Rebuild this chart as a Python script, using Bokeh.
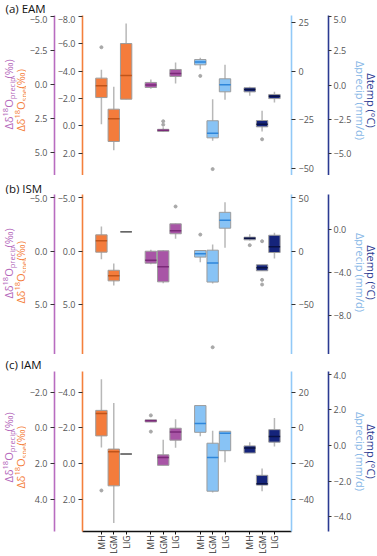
import math
from bokeh.plotting import figure
from bokeh.models import Range1d, LinearAxis, FixedTicker, ColumnDataSource
from bokeh.core.properties import value
from bokeh.layouts import column, row
from bokeh.embed import file_html
from bokeh.resources import INLINE

# ---------------- data ----------------
PERIODS = ["MH", "LGM", "LIG"]

# each entry: (whisker low, q1, median, q3, whisker high) for MH, LGM, LIG
EAM_SPEL = [(-4.10, -3.49, -2.93, -2.07, -0.12), (-2.86, -1.22, -0.52, 1.14, 1.78), (-7.49, -6.02, -3.68, -1.95, -1.95)]
EAM_PREC = [(-0.36, -0.14, 0.04, 0.23, 0.33), (3.14, 3.29, 3.36, 3.44, 3.49), (-1.60, -1.09, -0.80, -0.58, -0.06)]
EAM_AMT = [(1.1, 3.4, 4.9, 6.1, 7.0), (-35.7, -34.2, -31.8, -25.4, -14.3), (-14.6, -10.5, -6.9, -3.8, 3.5)]
EAM_TEMP = [(-0.79, -0.50, -0.33, -0.20, -0.13), (-3.39, -3.05, -2.86, -2.59, -1.88), (-1.28, -0.99, -0.82, -0.69, -0.50)]
EAM_SPEL_OUT = [[-5.75], [], []]
EAM_PREC_OUT = [[], [2.70, 2.95], []]
EAM_AMT_OUT = [[-2.3], [-50.3], []]
EAM_TEMP_OUT = [[], [-3.96], []]

ISM_SPEL = [(-2.32, -1.54, -0.98, 0.08, 0.74), (1.14, 1.77, 2.29, 2.76, 3.20), (-1.82, -1.82, -1.82, -1.82, -1.82)]
ISM_PREC = [(-0.14, -0.01, 0.83, 1.11, 1.21), (-0.10, -0.05, 1.45, 2.85, 2.98), (-2.60, -2.57, -1.92, -1.64, -1.17)]
ISM_AMT = [(-10.3, -5.6, -2.5, 0.6, 0.6), (-30.3, -29.0, -11.2, 0.9, 6.2), (3.1, 21.5, 29.0, 36.4, 45.8)]
ISM_TEMP = [(-1.0, -0.94, -0.79, -0.69, -0.41), (-3.84, -3.84, -3.56, -3.28, -3.28), (-2.69, -2.13, -1.59, -0.51, -0.28)]
ISM_SPEL_OUT = [[], [], []]
ISM_PREC_OUT = [[], [], [-4.19]]
ISM_AMT_OUT = [[15.5], [-90.1], []]
ISM_TEMP_OUT = [[-1.44], [-1.07, -4.69, -5.13], []]

IAM_SPEL = [(-4.71, -2.97, -2.80, -1.54, -0.89), (-3.39, -0.80, -0.65, 1.26, 3.35), (-0.52, -0.52, -0.52, -0.52, -0.52)]
IAM_PREC = [(-0.44, -0.44, -0.39, -0.32, -0.32), (0.67, 1.52, 1.67, 2.11, 2.11), (-0.48, 0.03, 0.24, 0.70, 1.13)]
IAM_AMT = [(-4.8, -2.6, 2.4, 12.4, 12.4), (-36.4, -35.6, -16.7, -8.7, -1.7), (-19.4, -12.9, -3.1, -2.0, -2.0)]
IAM_TEMP = [(-0.42, -0.42, -0.14, -0.02, 0.19), (-2.56, -2.22, -2.14, -1.67, -1.29), (-0.06, 0.19, 0.50, 0.89, 1.54)]
IAM_SPEL_OUT = [[1.52], [], []]
IAM_PREC_OUT = [[-0.69, 0.22], [], []]
IAM_AMT_OUT = [[], [], []]
IAM_TEMP_OUT = [[], [], []]

# axis ranges (bottom, top) and ticks per panel
EAM_RANGES = {"spel": (3.63, -8.07), "prec": (6.67, -5.04), "amt": (-53.6, 28.8), "temp": (-6.6, 5.07)}
ISM_RANGES = {"spel": (9.64, -5.31), "prec": (9.64, -5.31), "amt": (-96.9, 53.1), "temp": (-11.69, 3.31)}
IAM_RANGES = {"spel": (3.82, -5.15), "prec": (5.82, -3.15), "amt": (-58.2, 31.5), "temp": (-4.82, 4.15)}
EAM_TICKS = {"spel": [-8, -6, -4, -2, 0, 2], "prec": [-5, -2.5, 0, 2.5, 5], "amt": [25, 0, -25, -50], "temp": [5, 2.5, 0, -2.5, -5]}
ISM_TICKS = {"spel": [-5, 0, 5], "prec": [-5, 0, 5], "amt": [50, 0, -50], "temp": [0, -4, -8]}
IAM_TICKS = {"spel": [-4, -2, 0, 2], "prec": [-2, 0, 2, 4], "amt": [20, 0, -20, -40], "temp": [4, 2, 0, -2, -4]}
TICK_FMT = {"spel": "{:.1f}", "prec": "{:.1f}", "amt": "{:.0f}", "temp": "{:.1f}"}

TITLES = ["(a) EAM", "(b) ISM", "(c) IAM"]
LABEL_PREC = [("Δδ", 11, 0), ("18", 7.5, -3.5), ("O", 11, 0), ("precip", 7.5, 3), (" (‰)", 11, 0)]
LABEL_SPEL = [("Δδ", 11, 0), ("18", 7.5, -3.5), ("O", 11, 0), ("spel", 7.5, 3), (" (‰)", 11, 0)]
LABEL_AMT = "Δprecip (mm/d)"
LABEL_TEMP = "Δtemp (°C)"

# ---------------- style ----------------
FONT = "Open Sans"
KEYS = ["spel", "prec", "amt", "temp"]
BASE = {"spel": 0, "prec": 4, "amt": 8, "temp": 12}
FILL = {"spel": "#F47C3C", "prec": "#A855A6", "amt": "#88C3F5", "temp": "#15247B"}
MED = {"spel": "#C0541A", "prec": "#7A2A78", "amt": "#2E86DA", "temp": "#0A1244"}
AXC = {"spel": "#F4803C", "prec": "#B86CC0", "amt": "#92C9F7", "temp": "#2B3A92"}
LABC = {"spel": "#F4803C", "prec": "#B366BA", "amt": "#86B6E6", "temp": "#2B3A92"}
WHISK = "#b8b8b8"
EDGE = "#9c9c9c"
OUTC = "#a8a8a8"
BW = 0.46

LW, RW = 26, 22
FW, FH = 209, 160
TOTAL_W = 368
X0, X1 = -1.53, 15.38

EM = {'Δ': 0.62, 'δ': 0.56, 'O': 0.78, '1': 0.57, '8': 0.57, 'p': 0.61, 'r': 0.41, 'e': 0.56,
      'c': 0.48, 'i': 0.26, 's': 0.48, 'l': 0.26, ' ': 0.26, '(': 0.30, ')': 0.30, '‰': 0.93}


def text_fig(w, h):
    f = figure(frame_width=w, frame_height=h, x_range=Range1d(0, w), y_range=Range1d(0, h),
               x_axis_location=None, y_axis_location=None, toolbar_location=None,
               output_backend="svg", min_border=0, min_border_left=0, min_border_right=0,
               min_border_top=0, min_border_bottom=0, title=None)
    f.outline_line_color = None
    f.grid.visible = False
    return f


def styled_axis(name, ticks, fmt, tick_out=4, standoff=3):
    overrides = {}
    for t in ticks:
        key = int(t) if float(t).is_integer() else t
        overrides[key] = fmt.format(t).replace("-", "\u2212")
    ax = LinearAxis(y_range_name=name, ticker=FixedTicker(ticks=ticks), major_label_overrides=overrides)
    ax.axis_line_color = AXC[name]
    ax.axis_line_width = 1.6
    ax.major_tick_line_color = "#333333"
    ax.major_tick_out = tick_out
    ax.major_tick_in = 0
    ax.minor_tick_line_color = None
    ax.major_label_text_font = FONT
    ax.major_label_text_font_size = "9px"
    ax.major_label_text_color = "#555555"
    ax.major_label_standoff = standoff
    return ax


def rotated_pieces(f, pieces, cx, cy, color):
    # text reads bottom-to-top; cy measured from the top of the figure
    widths = [sum(EM.get(ch, 0.55) for ch in t) * s for t, s, _ in pieces]
    py = cy + sum(widths) / 2
    for (t, s, sh), w in zip(pieces, widths):
        yc = FH - (py - w / 2)
        f.text(x=[cx + sh], y=[yc], text=[t], angle=math.pi / 2, text_align="center",
               text_baseline="middle", text_font=value(FONT), text_font_size=value(f"{s}px"),
               text_color=color)
        py -= w


def make_main(data, outs, ranges, ticks, show_x):
    p = figure(frame_width=FW, frame_height=FH, x_range=Range1d(X0, X1), y_range=Range1d(0, 1),
               min_border=0, min_border_left=0, min_border_right=0, min_border_top=0,
               min_border_bottom=0, x_axis_location="below" if show_x else None,
               y_axis_location=None, toolbar_location=None, output_backend="svg", title=None)
    p.outline_line_color = None
    p.grid.visible = False
    p.extra_y_ranges = {k: Range1d(start=ranges[k][0], end=ranges[k][1]) for k in KEYS}

    p.add_layout(styled_axis("spel", ticks["spel"], TICK_FMT["spel"]), "left")
    p.add_layout(styled_axis("prec", ticks["prec"], TICK_FMT["prec"]), "left")
    lb = styled_axis("amt", ticks["amt"], TICK_FMT["amt"])
    lb.axis_label = " "
    lb.axis_label_text_font_size = "1px"
    lb.axis_label_standoff = 7
    p.add_layout(lb, "right")
    p.add_layout(styled_axis("temp", ticks["temp"], TICK_FMT["temp"], 3, 2), "right")

    for key in KEYS:
        stats = data[key]
        xs = [BASE[key] + i for i in range(3)]
        src = ColumnDataSource(dict(
            x=xs, left=[x - BW for x in xs], right=[x + BW for x in xs],
            lo=[s[0] for s in stats], q1=[s[1] for s in stats], med=[s[2] for s in stats],
            q3=[s[3] for s in stats], hi=[s[4] for s in stats],
            mcol=["#666666" if s[1] == s[3] else MED[key] for s in stats]))
        p.segment(x0="x", y0="lo", x1="x", y1="hi", source=src, y_range_name=key,
                  line_color=WHISK, line_width=1.5)
        p.quad(left="left", right="right", bottom="q1", top="q3", source=src, y_range_name=key,
               fill_color=FILL[key], line_color=EDGE, line_width=1)
        p.segment(x0="left", y0="med", x1="right", y1="med", source=src, y_range_name=key,
                  line_color="mcol", line_width=1.5)
        ox, oy = [], []
        for i, o in enumerate(outs[key]):
            for v in o:
                ox.append(xs[i])
                oy.append(v)
        if ox:
            p.scatter(ox, oy, y_range_name=key, size=3, color=OUTC)

    if show_x:
        xt = [BASE[k] + i for k in KEYS for i in range(3)]
        ax = p.xaxis[0]
        ax.ticker = FixedTicker(ticks=xt)
        ax.major_label_overrides = {x: PERIODS[j % 3] for j, x in enumerate(xt)}
        ax.major_label_orientation = math.pi / 2
        ax.axis_line_color = "#111111"
        ax.axis_line_width = 1.5
        ax.major_tick_line_color = "#111111"
        ax.major_tick_out = 3
        ax.major_tick_in = 0
        ax.minor_tick_line_color = None
        ax.major_label_text_font = FONT
        ax.major_label_text_font_size = "8.5px"
        ax.major_label_text_color = "#333333"
        ax.major_label_standoff = 1
    return p


def make_row(data, outs, ranges, ticks, show_x, dy_prec, dy_spel, dy_right):
    left = text_fig(LW, FH)
    rotated_pieces(left, LABEL_PREC, 8, FH / 2 + dy_prec, LABC["prec"])
    rotated_pieces(left, LABEL_SPEL, 20, FH / 2 + dy_spel, LABC["spel"])
    right = text_fig(RW, FH)
    right.text(x=[5.5, 16.5], y=[FH / 2 - dy_right] * 2, text=[LABEL_AMT, LABEL_TEMP],
               angle=-math.pi / 2, text_align="center", text_baseline="middle",
               text_font=value(FONT), text_font_size=value("11px"),
               text_color=[LABC["amt"], LABC["temp"]])
    main = make_main(data, outs, ranges, ticks, show_x)
    return row(left, main, right, spacing=0)


def title_fig(text, h, cy):
    f = text_fig(TOTAL_W, h)
    f.text(x=[5], y=[h - cy], text=[text], text_align="left", text_baseline="middle",
           text_font=value(FONT), text_font_size=value("11.5px"), text_color="#111111")
    return f


ta = title_fig(TITLES[0], 15, 8)
ra = make_row({"spel": EAM_SPEL, "prec": EAM_PREC, "amt": EAM_AMT, "temp": EAM_TEMP},
              {"spel": EAM_SPEL_OUT, "prec": EAM_PREC_OUT, "amt": EAM_AMT_OUT, "temp": EAM_TEMP_OUT},
              EAM_RANGES, EAM_TICKS, False, -2, 4, 5)
tb = title_fig(TITLES[1], 19, 12.5)
rb = make_row({"spel": ISM_SPEL, "prec": ISM_PREC, "amt": ISM_AMT, "temp": ISM_TEMP},
              {"spel": ISM_SPEL_OUT, "prec": ISM_PREC_OUT, "amt": ISM_AMT_OUT, "temp": ISM_TEMP_OUT},
              ISM_RANGES, ISM_TICKS, False, -12, -3, -2)
tc = title_fig(TITLES[2], 17, 10)
rc = make_row({"spel": IAM_SPEL, "prec": IAM_PREC, "amt": IAM_AMT, "temp": IAM_TEMP},
              {"spel": IAM_SPEL_OUT, "prec": IAM_PREC_OUT, "amt": IAM_AMT_OUT, "temp": IAM_TEMP_OUT},
              IAM_RANGES, IAM_TICKS, True, -5, 5, 0)

layout = column(ta, ra, tb, rb, tc, rc, spacing=0)
open("out.html", "w").write(file_html(layout, INLINE))
